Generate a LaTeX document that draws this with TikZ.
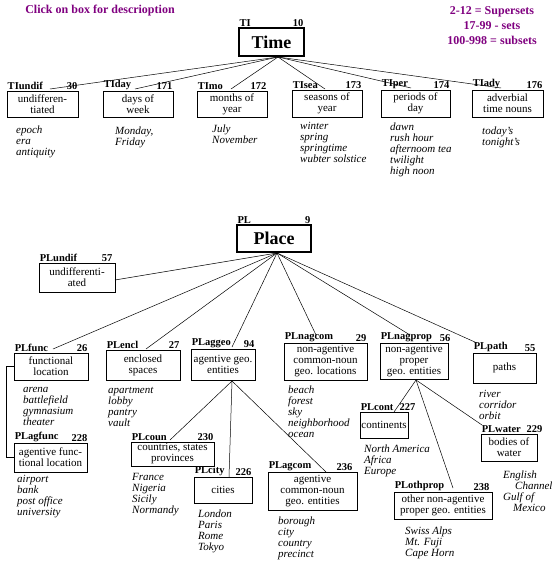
\documentclass[tikz,border=0pt]{standalone}
\usepackage{fontspec}
\setmainfont{Liberation Serif}
\usetikzlibrary{positioning}
\definecolor{keypurple}{HTML}{800080}

\begin{document}
\begin{tikzpicture}[x=1pt, y=-1pt,
      box/.style={draw, line width=0.9pt, align=center, inner sep=1pt,
                  font=\fontsize{11}{11}\selectfont},
      topbox/.style={draw, line width=1.3pt, inner sep=1pt,
                     font=\fontsize{18}{20}\selectfont\bfseries},
      tag/.style={font=\fontsize{10.5}{12}\selectfont\bfseries, inner sep=1pt},
      eg/.style={anchor=north west, align=left, inner sep=0pt,
                 font=\fontsize{11}{11}\selectfont\itshape},
      link/.style={line width=0.5pt},
      key/.style={font=\fontsize{12}{15}\selectfont\bfseries, text=keypurple,
                  align=center},
    ]
      \useasboundingbox[fill=white] (0,0) rectangle (553,572);

      % legend
      \node[key] (clickhint) at (100,11) {Click on box for descrioption};
      \node[key] (setkey) at (492,26) {2-12 = Supersets\\17-99 - sets\\100-998 = subsets};

      % time
      \node[topbox, minimum width=65pt, minimum height=28pt] (TI) at (271.5,42) {Time};
      \node[box, minimum width=71pt, minimum height=26pt] (TIundif) at (42.5,104) {undifferen-\\tiated};
      \node[box, minimum width=70pt, minimum height=26pt] (TIday) at (138,104) {days of\\week};
      \node[box, minimum width=70pt, minimum height=26pt] (TImo) at (232,104) {months of\\year};
      \node[box, minimum width=70pt, minimum height=27pt] (TIsea) at (327,103.5) {seasons of\\year};
      \node[box, minimum width=69pt, minimum height=27pt] (TIper) at (415.5,103.5) {periods of\\day};
      \node[box, minimum width=71pt, minimum height=27pt] (TIady) at (507.5,103.5) {adverbial\\time nouns};

      \node[eg] (TIundif-eg) at (16,126) {epoch\\era\\antiquity};
      \node[eg] (TIday-eg) at (115,127) {Monday,\\Friday};
      \node[eg] (TImo-eg) at (212,125) {July\\November};
      \node[eg] (TIsea-eg) at (300,122) {winter\\spring\\springtime\\wubter solstice};
      \node[eg] (TIper-eg) at (390,123) {dawn\\rush hour\\afternoom tea\\twilight\\high noon};
      \node[eg] (TIady-eg) at (482,127) {today's\\tonight's};

      % place
      \node[topbox, minimum width=74pt, minimum height=27pt] (PL) at (274,238.5) {Place};
      \node[box, minimum width=76pt, minimum height=29pt] (PLundif) at (77,277.5) {undifferenti-\\ated};
      \node[box, minimum width=74pt, minimum height=27pt] (PLfunc) at (51,366.5) {functional\\location};
      \node[box, minimum width=73pt, minimum height=29pt] (PLagfunc) at (50.5,457.5) {agentive func-\\tional location};
      \node[box, minimum width=74pt, minimum height=30pt] (PLencl) at (143,365) {enclosed\\spaces};
      \node[box, minimum width=64pt, minimum height=31pt] (PLaggeo) at (223,364.5) {agentive geo.\\entities};
      \node[box, minimum width=83pt, minimum height=37pt] (PLnagcom) at (325.5,361.5) {non-agentive\\common-noun\\geo. locations};
      \node[box, minimum width=68pt, minimum height=36pt] (PLnagprop) at (414,361) {non-agentive\\proper\\geo. entities};
      \node[box, minimum width=63pt, minimum height=30pt] (PLpath) at (504.5,368) {paths};
      \node[box, minimum width=83pt, minimum height=24pt] (PLcoun) at (172.5,454) {countries, states\\provinces};
      \node[box, minimum width=58pt, minimum height=26pt] (PLcity) at (223,490) {cities};
      \node[box, minimum width=89pt, minimum height=38pt] (PLagcom) at (312.5,491) {agentive\\common-noun\\geo. entities};
      \node[box, minimum width=48pt, minimum height=26pt] (PLcont) at (384,425) {continents};
      \node[box, minimum width=56pt, minimum height=27pt] (PLwater) at (509,447.5) {bodies of\\water};
      \node[box, minimum width=98pt, minimum height=27pt] (PLothprop) at (443,505.5) {other non-agentive\\proper geo. entities};

      \node[eg] (PLfunc-eg) at (23,387) {arena\\battlefield\\gymnasium\\theater};
      \node[eg] (PLagfunc-eg) at (17,475) {airport\\bank\\post office\\university};
      \node[eg] (PLencl-eg) at (108,387) {apartment\\lobby\\pantry\\vault};
      \node[eg] (PLnagcom-eg) at (288,386) {beach\\forest\\sky\\neighborhood\\ocean};
      \node[eg] (PLpath-eg) at (479,390) {river\\corridor\\orbit};
      \node[eg] (PLcoun-eg) at (132,473) {France\\Nigeria\\Sicily\\Normandy};
      \node[eg] (PLcity-eg) at (198,510) {London\\Paris\\Rome\\Tokyo};
      \node[eg] (PLagcom-eg) at (278,517) {borough\\city\\country\\precinct};
      \node[eg] (PLcont-eg) at (364,445) {North America\\Africa\\Europe};
      \node[eg] (PLwater-eg) at (503,471) {English\\\hspace{12pt}Channel\\Gulf of\\\hspace{10pt}Mexico};
      \node[eg] (PLothprop-eg) at (405,527) {Swiss Alps\\Mt. Fuji\\Cape Horn};

      % names and numbers over the boxes
      \foreach \n/\num/\dx in {TI/10/0, TIundif/30/0, TIday/171/0, TImo/172/0,
                               TIsea/173/0, TIper/174/0, TIady/176/0, PL/9/0,
                               PLundif/57/-2, PLfunc/26/0, PLagfunc/228/1,
                               PLencl/27/0, PLaggeo/94/0, PLnagcom/29/0,
                               PLnagprop/56/3, PLpath/55/0, PLcoun/230/0,
                               PLcity/226/0, PLagcom/236/-4, PLcont/227/8,
                               PLwater/229/6, PLothprop/238/-2}
      {
        \node[tag, anchor=south west] (\n-name) at (\n.north west) {\n};
        \node[tag, anchor=south east] (\n-num) at ([xshift=\dx]\n.north east) {\num};
      }

      % connectors
      \coordinate (TIhub) at (278,57);
      \foreach \n/\x/\y in {TIundif/50/89, TIday/135/89, TImo/231/89,
                            TIsea/325/89, TIper/411/88, TIady/501/88}
      {
        \coordinate (\n-in) at (\x,\y);
        \draw[link] (TIhub) -- (\n-in);
      }

      \coordinate (PLhub) at (277,253);
      \foreach \n/\x/\y in {PLundif/115/280, PLfunc/53/349, PLencl/146/349,
                            PLaggeo/232/347, PLnagcom/316/335,
                            PLnagprop/410/335, PLpath/477/343}
      {
        \coordinate (\n-in) at (\x,\y);
        \draw[link] (PLhub) -- (\n-in);
      }

      \coordinate (PLaggeo-out) at (232,381);
      \foreach \n/\x/\y in {PLcoun/170/440, PLcity/229/477, PLagcom/326/472}
      {
        \coordinate (\n-in) at (\x,\y);
        \draw[link] (PLaggeo-out) -- (\n-in);
      }

      \coordinate (PLnagprop-out) at (416,380);
      \foreach \n/\x/\y in {PLcont/394/412, PLwater/482/425, PLothprop/453/488}
      {
        \coordinate (\n-in) at (\x,\y);
        \draw[link] (PLnagprop-out) -- (\n-in);
      }

      \draw[link] (PLfunc.west) -- ++(-7,0) |- (PLagfunc.west);
    \end{tikzpicture}
\end{document}
